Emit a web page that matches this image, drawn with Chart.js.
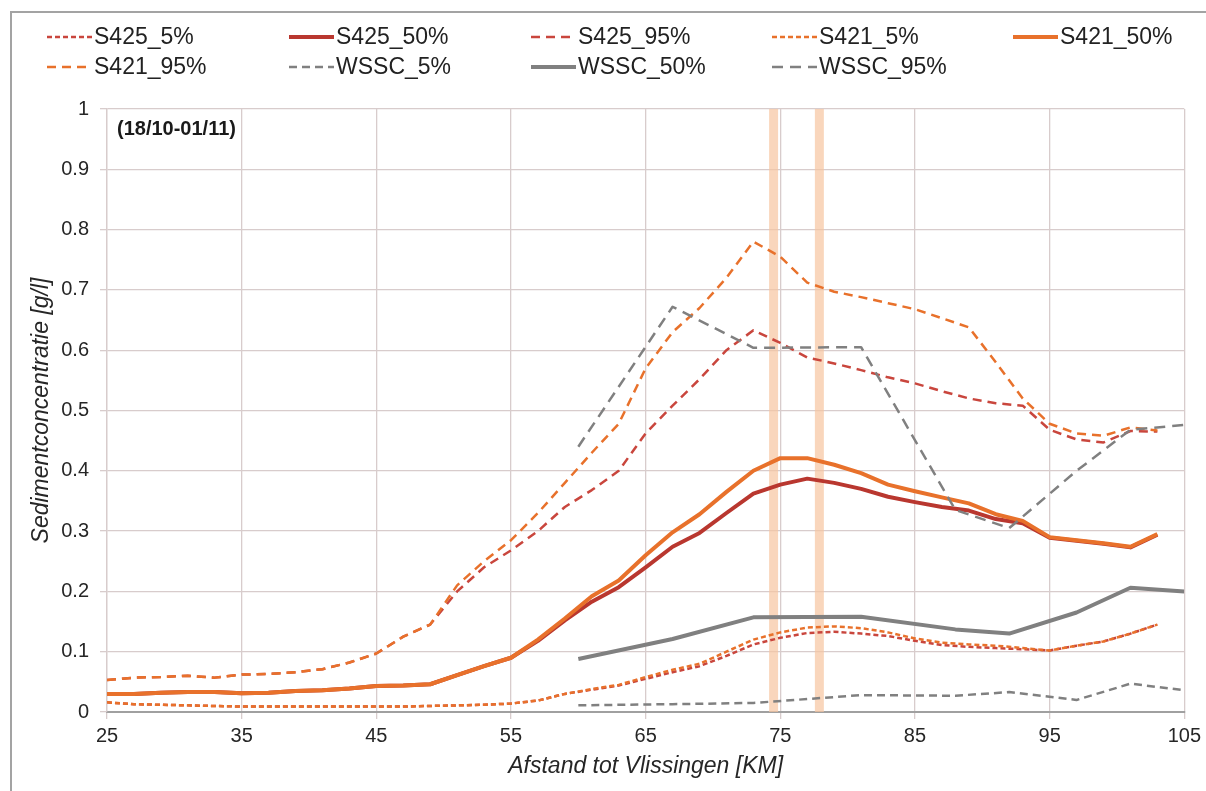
<!DOCTYPE html>
<html>
<head>
<meta charset="utf-8">
<script src="https://cdn.jsdelivr.net/npm/chart.js@4.4.1/dist/chart.umd.min.js"></script>
<style>
  html, body { margin: 0; padding: 0; background: #ffffff; }
  #wrap { position: relative; width: 1206px; height: 791px; }
  canvas { display: block; }
</style>
</head>
<body>
<div id="wrap"><canvas id="c" width="1206" height="791"></canvas></div>
<script>
// ---------- DATA ----------
const kmS = [25,27,29,31,33,35,37,39,41,43,45,47,49,51,53,55,57,59,61,63,65,67,69,71,73,75,77,79,81,83,85,87,89,91,93,95,97,99,101,103];

const S425_5  = [0.016,0.013,0.012,0.011,0.010,0.009,0.009,0.009,0.009,0.009,0.009,0.009,0.010,0.011,0.012,0.014,0.019,0.030,0.037,0.044,0.055,0.066,0.076,0.093,0.112,0.123,0.131,0.133,0.130,0.126,0.118,0.111,0.108,0.106,0.104,0.102,0.110,0.117,0.130,0.145];
const S425_50 = [0.030,0.030,0.032,0.033,0.033,0.031,0.032,0.035,0.036,0.039,0.043,0.044,0.046,0.061,0.076,0.090,0.118,0.152,0.183,0.207,0.240,0.274,0.297,0.330,0.362,0.377,0.387,0.380,0.370,0.357,0.348,0.340,0.334,0.320,0.313,0.289,0.284,0.279,0.273,0.294];
const S425_95 = [0.053,0.057,0.058,0.060,0.057,0.062,0.063,0.066,0.071,0.082,0.097,0.125,0.145,0.200,0.240,0.268,0.300,0.340,0.368,0.400,0.462,0.508,0.552,0.600,0.633,0.612,0.588,0.578,0.567,0.555,0.545,0.532,0.520,0.512,0.508,0.468,0.452,0.447,0.466,0.465];
const S421_5  = [0.016,0.013,0.012,0.011,0.010,0.009,0.009,0.009,0.009,0.009,0.009,0.009,0.010,0.011,0.012,0.014,0.019,0.030,0.038,0.045,0.058,0.070,0.080,0.100,0.120,0.132,0.140,0.142,0.139,0.132,0.122,0.115,0.112,0.110,0.106,0.102,0.110,0.117,0.130,0.145];
const S421_50 = [0.030,0.030,0.032,0.033,0.033,0.031,0.032,0.035,0.036,0.039,0.043,0.044,0.046,0.061,0.076,0.090,0.120,0.155,0.192,0.218,0.260,0.298,0.328,0.365,0.400,0.421,0.421,0.410,0.396,0.377,0.366,0.356,0.346,0.328,0.317,0.290,0.285,0.280,0.274,0.295];
const S421_95 = [0.053,0.057,0.058,0.060,0.057,0.062,0.063,0.066,0.071,0.082,0.097,0.125,0.145,0.210,0.250,0.285,0.330,0.380,0.430,0.478,0.570,0.630,0.670,0.720,0.780,0.755,0.712,0.697,0.688,0.678,0.668,0.653,0.638,0.580,0.520,0.478,0.462,0.458,0.472,0.467];

const kmW = [60,67,73,81,88,92,97,101,105];
const WSSC_5  = [0.011,0.013,0.015,0.028,0.027,0.033,0.020,0.047,0.036];
const WSSC_50 = [0.088,0.121,0.157,0.158,0.137,0.130,0.165,0.206,0.200];
const WSSC_95 = [0.440,0.672,0.604,0.605,0.335,0.305,0.400,0.468,0.476];

const bandKm = [74.5, 77.9];
const bandRange = [0, 1];

const xTicks = [25,35,45,55,65,75,85,95,105];
const yTickLabels = ['0','0.1','0.2','0.3','0.4','0.5','0.6','0.7','0.8','0.9','1'];

const periodLabel = '(18/10-01/11)';
const xTitle = 'Afstand tot Vlissingen [KM]';
const yTitle = 'Sedimentconcentratie [g/l]';

// ---------- STYLE ----------
const RED_D = '#c9463d', RED_S = '#b9372f', ORANGE = '#e8712b', GREY = '#808080';
const FONT = "'Liberation Sans', Arial, Helvetica, sans-serif";
Chart.defaults.font.family = FONT;
Chart.defaults.color = '#262626';

const pts = (xs, ys) => xs.map((x, i) => ({x: x, y: ys[i]}));

function line(label, xs, ys, color, width, dash, order) {
  return {
    label: label, data: pts(xs, ys), showLine: true, borderColor: color,
    backgroundColor: color, borderWidth: width, borderDash: dash || [],
    pointRadius: 0, pointHoverRadius: 0, tension: 0, fill: false, order: order,
    borderCapStyle: 'butt', borderJoinStyle: 'round'
  };
}

const datasets = [
  line('S425_5%',  kmS, S425_5,  RED_D, 2.5, [5,3], 9),
  line('S425_50%', kmS, S425_50, RED_S, 4, [],    8),
  line('S425_95%', kmS, S425_95, RED_D, 2.5, [9,6], 7),
  line('S421_5%',  kmS, S421_5,  ORANGE, 2.5, [5,3], 6),
  line('S421_50%', kmS, S421_50, ORANGE, 4, [],   5),
  line('S421_95%', kmS, S421_95, ORANGE, 2.5, [9,6], 4),
  line('WSSC_5%',  kmW, WSSC_5,  GREY, 2.5, [8,5], 3),
  line('WSSC_50%', kmW, WSSC_50, GREY, 4, [],    2),
  line('WSSC_95%', kmW, WSSC_95, GREY, 2.5, [11,7], 1)
];
bandKm.forEach((k, i) => {
  datasets.push({
    label: 'band' + i, data: [{x: k, y: bandRange[0]}, {x: k, y: bandRange[1]}],
    showLine: true, borderColor: 'rgba(247,196,160,0.7)', borderWidth: 9,
    pointRadius: 0, borderCapStyle: 'butt', order: 20, legendSkip: true
  });
});

// custom legend (2 rows x 5 columns)
const legendPlugin = {
  id: 'customLegend',
  afterDraw(chart) {
    const ctx = chart.ctx;
    const items = chart.data.datasets.filter(d => !d.legendSkip);
    const colX = [94, 336, 578, 819, 1060];
    const rowY = [37, 67];
    ctx.save();
    ctx.font = '23px ' + FONT;
    ctx.textBaseline = 'middle';
    ctx.textAlign = 'left';
    items.forEach((d, i) => {
      const r = Math.floor(i / 5), c = i % 5;
      const tx = colX[c], ty = rowY[r];
      ctx.strokeStyle = d.borderColor;
      ctx.lineWidth = d.borderWidth;
      ctx.setLineDash(d.borderDash || []);
      ctx.lineCap = 'butt';
      ctx.beginPath();
      ctx.moveTo(tx - 47, ty);
      ctx.lineTo(tx - 2, ty);
      ctx.stroke();
      ctx.setLineDash([]);
      ctx.fillStyle = '#222222';
      ctx.fillText(d.label, tx, ty + 1);
    });
    // period label
    ctx.font = 'bold 20px ' + FONT;
    ctx.fillStyle = '#1a1a1a';
    ctx.fillText(periodLabel, chart.chartArea.left + 10, chart.chartArea.top + 20);
    ctx.restore();
  },
  beforeDraw(chart) {
    const ctx = chart.ctx;
    ctx.save();
    ctx.fillStyle = '#ffffff';
    ctx.fillRect(0, 0, chart.width, chart.height);
    ctx.strokeStyle = '#a3a3a3';
    ctx.lineWidth = 2;
    ctx.beginPath();
    ctx.moveTo(11, chart.height);
    ctx.lineTo(11, 12);
    ctx.lineTo(chart.width, 12);
    ctx.stroke();
    ctx.restore();
  }
};

const GRID = '#d8cccc';

new Chart(document.getElementById('c'), {
  type: 'scatter',
  data: { datasets: datasets },
  options: {
    responsive: false,
    animation: false,
    events: [],
    layout: { padding: { left: 12, right: 21, top: 109, bottom: 10 } },
    plugins: { legend: { display: false }, tooltip: { enabled: false } },
    scales: {
      x: {
        type: 'linear', min: 25, max: 105,
        afterBuildTicks: s => { s.ticks = xTicks.map(v => ({value: v})); },
        ticks: { font: { size: 20 }, color: '#262626', padding: 5, maxRotation: 0,
                 callback: v => String(v) },
        grid: { color: GRID, lineWidth: 1.3, tickLength: 7 },
        border: { color: '#a0a0a0', width: 2 },
        title: { display: true, text: xTitle, font: { size: 23, style: 'italic' },
                 color: '#262626', padding: { top: 0, bottom: 1 } },
        afterFit: s => { s.height = 69; }
      },
      y: {
        type: 'linear', min: 0, max: 1,
        afterBuildTicks: s => { s.ticks = yTickLabels.map((t, i) => ({value: i / 10})); },
        ticks: { font: { size: 20 }, color: '#262626', padding: 11,
                 callback: (v, i) => yTickLabels[i] },
        grid: { color: GRID, lineWidth: 1.3, tickLength: 7 },
        border: { color: GRID, width: 1.3 },
        title: { display: true, text: yTitle, font: { size: 23, style: 'italic' },
                 color: '#262626', padding: { top: 16, bottom: 0 } },
        afterFit: s => { s.width = 95; }
      }
    }
  },
  plugins: [legendPlugin]
});
</script>
</body>
</html>
